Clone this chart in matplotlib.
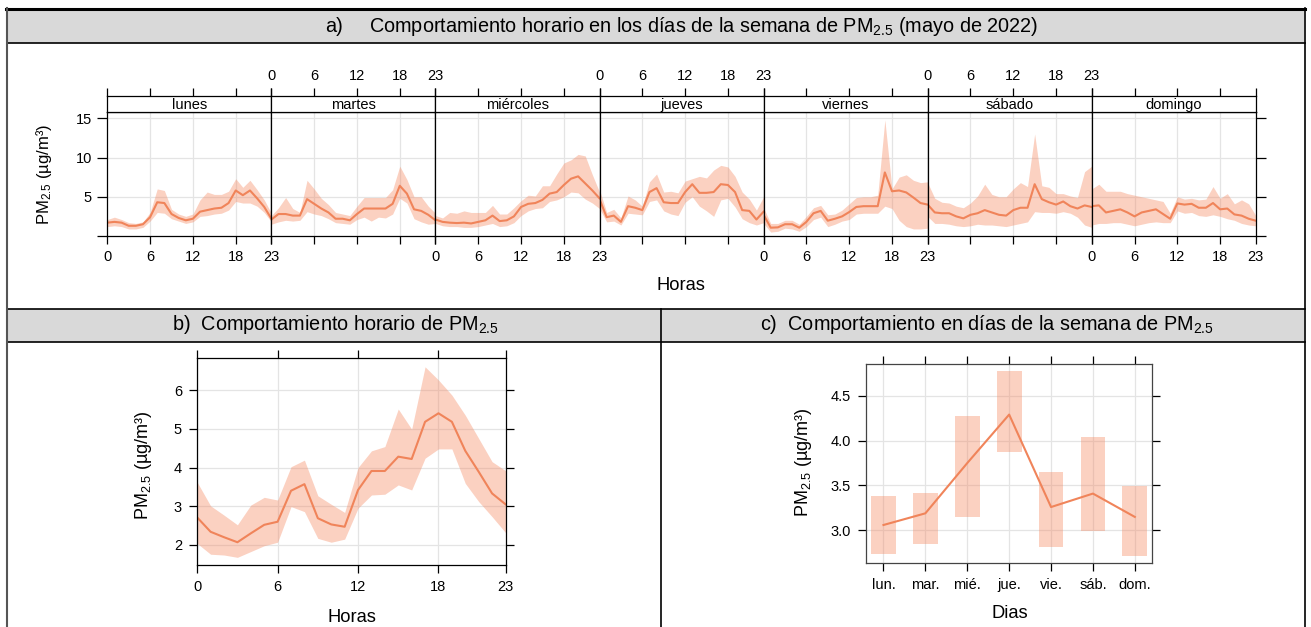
import matplotlib
matplotlib.use("Agg")
import matplotlib.pyplot as plt
import numpy as np
from matplotlib.patches import Rectangle

plt.rcParams['font.family'] = ['Liberation Sans', 'DejaVu Sans']
plt.rcParams['mathtext.fontset'] = 'custom'
plt.rcParams['mathtext.rm'] = 'Liberation Sans'
plt.rcParams['mathtext.it'] = 'Liberation Sans:italic'
plt.rcParams['mathtext.default'] = 'regular'

# ---------------- data ----------------
hours = list(range(24))
day_names = ["lunes", "martes", "miércoles", "jueves", "viernes", "sábado", "domingo"]
hour_ticks = [0, 6, 12, 18, 23]

lunes_mean = [1.7,1.8,1.7,1.3,1.3,1.5,2.4,4.3,4.2,2.8,2.3,2.0,2.2,3.1,3.3,3.5,3.6,4.2,5.8,5.2,5.8,4.8,3.7,2.2]
lunes_hi   = [2.1,2.4,2.1,1.7,1.6,1.8,3.0,6.0,5.8,3.4,2.8,2.5,2.8,4.6,5.6,5.3,5.3,5.7,7.3,6.2,7.1,5.9,4.6,2.9]
lunes_lo   = [1.2,1.3,1.2,0.9,0.9,1.1,1.9,3.0,2.9,2.2,1.9,1.6,1.8,2.5,2.6,2.8,2.9,3.3,4.4,4.2,4.2,3.8,3.0,1.8]

martes_mean = [2.1,2.8,2.8,2.6,2.6,4.7,4.1,3.5,3.0,2.2,2.2,2.0,2.8,3.5,3.5,3.5,3.5,4.1,6.4,5.4,3.4,3.2,2.7,2.0]
martes_hi   = [2.6,3.6,4.9,3.5,3.0,7.1,6.0,4.8,4.0,3.0,2.8,2.6,3.8,4.9,4.9,4.9,4.9,5.9,8.9,7.2,5.0,5.0,3.8,2.9]
martes_lo   = [1.5,1.8,2.0,1.9,2.0,3.1,2.8,2.6,2.2,1.7,1.6,1.5,2.1,2.4,1.9,2.4,2.3,2.8,4.8,4.2,2.2,1.8,1.5,1.6]

miercoles_mean = [2.1,1.8,1.7,1.65,1.7,1.6,1.8,2.0,2.6,1.9,2.0,2.5,3.7,4.1,4.2,4.6,5.4,5.6,6.5,7.3,7.6,6.7,5.8,4.8]
miercoles_hi   = [2.6,2.3,3.0,2.9,3.2,3.0,3.0,3.0,3.9,2.8,2.8,3.6,4.5,5.2,5.1,6.4,6.4,7.9,9.3,9.7,10.4,10.2,7.8,5.6]
miercoles_lo   = [1.6,1.3,1.2,1.2,1.1,1.1,1.2,1.4,1.6,1.2,1.3,1.7,2.6,3.2,3.5,3.6,4.4,4.6,5.0,5.6,5.5,4.7,4.2,3.5]

jueves_mean = [4.7,2.4,2.6,1.8,3.8,3.6,3.3,5.6,6.1,4.3,4.2,4.2,5.6,6.6,5.5,5.5,5.6,6.6,6.5,5.6,3.3,3.2,2.1,3.1]
jueves_hi   = [5.9,3.0,3.4,2.3,5.1,4.6,3.8,6.9,7.9,5.6,5.7,5.5,7.0,7.3,7.6,7.4,8.4,9.0,8.8,7.6,5.6,4.7,3.3,5.0]
jueves_lo   = [3.5,1.8,1.9,1.4,2.9,2.8,2.7,4.4,4.6,3.2,2.8,2.6,4.3,5.0,3.8,3.2,2.5,4.6,4.8,3.7,2.2,1.7,1.4,1.7]

viernes_mean = [2.7,1.06,1.1,1.5,1.5,1.06,1.8,2.9,3.2,1.95,2.2,2.5,3.05,3.7,3.8,3.8,3.8,8.1,5.7,5.8,5.55,4.9,4.2,4.0]
viernes_hi   = [3.6,1.6,1.6,2.0,2.0,1.5,2.5,3.6,3.9,2.7,2.8,3.3,4.1,4.9,5.0,5.0,5.2,14.8,6.0,7.5,7.8,7.1,6.8,6.9]
viernes_lo   = [1.6,0.5,0.6,1.0,0.9,0.6,1.2,2.1,2.4,1.2,1.5,1.9,2.1,2.8,2.9,2.9,2.9,3.8,3.5,2.0,1.2,0.9,0.9,1.0]

sabado_mean = [4.0,3.0,2.9,2.9,2.5,2.25,2.7,2.9,3.3,3.0,2.7,2.6,3.3,3.6,3.6,6.6,4.7,4.3,4.0,4.4,3.8,3.5,3.9,3.7]
sabado_hi   = [6.8,4.8,4.3,4.2,3.8,3.6,4.2,5.1,6.6,5.3,5.0,5.0,6.0,6.8,6.3,13.0,6.4,6.2,5.4,5.4,5.1,4.9,8.2,8.9]
sabado_lo   = [2.5,1.6,1.6,1.5,1.3,1.2,1.3,1.5,1.4,1.4,1.3,1.2,1.4,1.6,1.8,3.1,3.0,3.0,2.9,3.1,2.9,2.4,1.4,1.1]

domingo_mean = [3.8,3.9,3.0,3.2,3.4,3.0,2.5,3.0,3.2,3.4,2.8,2.2,4.15,4.0,4.1,3.6,3.6,4.2,3.4,3.5,2.75,2.6,2.2,1.95]
domingo_hi   = [6.0,6.6,5.7,5.7,5.7,5.4,5.2,5.0,4.8,4.6,4.4,2.9,5.0,4.7,4.8,4.6,4.7,6.3,4.8,5.4,4.1,4.6,4.1,2.6]
domingo_lo   = [1.4,1.6,1.6,1.7,1.7,1.5,1.3,1.5,1.7,1.8,1.7,1.7,3.2,2.9,3.0,2.6,2.5,2.7,2.5,2.2,2.0,1.6,1.4,1.3]

hour_mean = [2.71,2.34,2.2,2.07,2.3,2.52,2.6,3.4,3.57,2.69,2.53,2.47,3.42,3.91,3.91,4.28,4.22,5.18,5.4,5.18,4.43,3.89,3.33,3.05]
hour_hi   = [3.62,3.01,2.77,2.52,3.03,3.23,3.16,4.02,4.19,3.27,3.05,2.84,4.0,4.43,4.54,5.51,4.99,6.6,6.26,5.87,5.35,4.75,4.15,3.92]
hour_lo   = [2.04,1.76,1.74,1.68,1.83,1.98,2.07,2.99,2.86,2.17,2.07,2.15,2.95,3.29,3.31,3.55,3.42,4.24,4.48,4.48,3.59,3.12,2.73,2.32]

week_labels = ["lun.", "mar.", "mié.", "jue.", "vie.", "sáb.", "dom."]
week_mean = [3.06, 3.19, 3.75, 4.29, 3.26, 3.41, 3.15]
week_hi   = [3.38, 3.42, 4.27, 4.77, 3.65, 4.04, 3.49]
week_lo   = [2.74, 2.85, 3.15, 3.87, 2.81, 2.99, 2.72]

day_mean = [lunes_mean, martes_mean, miercoles_mean, jueves_mean, viernes_mean, sabado_mean, domingo_mean]
day_hi = [lunes_hi, martes_hi, miercoles_hi, jueves_hi, viernes_hi, sabado_hi, domingo_hi]
day_lo = [lunes_lo, martes_lo, miercoles_lo, jueves_lo, viernes_lo, sabado_lo, domingo_lo]

# ---------------- style ----------------
LINE = '#F0845A'
FILL = (0.96, 0.55, 0.40)
FILL_A = 0.40
GRID = '#E4E4E4'
TICK_FS = 10.5
HEAD_FS = 14.3
W, H = 1311, 627
fig = plt.figure(figsize=(W / 100, H / 100), dpi=100)

def add_ax(x0, y0, x1, y1, **kw):
    return fig.add_axes([x0 / W, 1 - y1 / H, (x1 - x0) / W, (y1 - y0) / H], **kw)

# table background
bg = add_ax(0, 0, W, H)
bg.set_xlim(0, W); bg.set_ylim(H, 0); bg.axis('off')
bg.add_patch(Rectangle((7, 9), 1297, 34, facecolor='#D9D9D9', edgecolor='none'))
bg.add_patch(Rectangle((7, 309), 1297, 33, facecolor='#D9D9D9', edgecolor='none'))
bg.plot([6, 1305], [8.5, 8.5], color='black', lw=2.2)
bg.plot([7, 1305], [43, 43], color='black', lw=1.2)
bg.plot([7, 1305], [309, 309], color='black', lw=1.2)
bg.plot([7, 1305], [342, 342], color='black', lw=1.2)
bg.plot([7, 7], [8, H], color='#555555', lw=1.5)
bg.plot([1304.5, 1304.5], [8, H], color='black', lw=1.2)
bg.plot([661, 661], [309, H], color='black', lw=1.2)

def ftext(x, y, s, **kw):
    fig.text(x / W, 1 - y / H, s, **kw)

ftext(325, 26, "a)", fontsize=HEAD_FS, ha='left', va='center')
ftext(369, 26, "Comportamiento horario en los días de la semana de PM$_{2.5}$ (mayo de 2022)",
      fontsize=HEAD_FS, ha='left', va='center')
ftext(172, 325, "b)  Comportamiento horario de PM$_{2.5}$", fontsize=HEAD_FS, ha='left', va='center')
ftext(760, 325, "c)  Comportamiento en días de la semana de PM$_{2.5}$", fontsize=HEAD_FS, ha='left', va='center')

# ---------------- panel a ----------------
x_left, x_right = 107.3, 1255.8
pw = (x_right - x_left) / 7
ytop, ybot, strip_top = 112, 236, 96
for i in range(7):
    x0 = x_left + i * pw
    ax = add_ax(x0, ytop, x0 + pw, ybot)
    ax.set_xlim(0, 23); ax.set_ylim(0, 15.8)
    for v in [6, 12, 18]:
        ax.axvline(v, color=GRID, lw=0.9, zorder=0)
    for v in [5, 10, 15]:
        ax.axhline(v, color=GRID, lw=0.9, zorder=0)
    ax.fill_between(hours, day_lo[i], day_hi[i], color=FILL, alpha=FILL_A, lw=0, zorder=1)
    ax.plot(hours, day_mean[i], color=LINE, lw=1.5, zorder=2)
    for s in ax.spines.values():
        s.set_color('black'); s.set_linewidth(0.9)
    ax.set_xticks(hour_ticks)
    ax.tick_params(axis='x', direction='out', length=6, width=0.9, pad=4, labelsize=TICK_FS,
                   labelbottom=(i % 2 == 0))
    ax.set_yticks([0, 5, 10, 15])
    if i == 0:
        ax.set_yticklabels(['', '5', '10', '15'])
        ax.tick_params(axis='y', direction='out', length=7, width=0.9, pad=4, labelsize=TICK_FS)
    elif i == 6:
        ax.yaxis.tick_right()
        ax.tick_params(axis='y', direction='out', length=7, width=0.9, labelright=False)
    else:
        ax.tick_params(axis='y', left=False, labelleft=False)
    # strip
    sa = add_ax(x0, strip_top, x0 + pw, ytop)
    sa.set_xlim(0, 23); sa.set_ylim(0, 1)
    for s in sa.spines.values():
        s.set_color('black'); s.set_linewidth(0.9)
    sa.set_yticks([])
    sa.xaxis.tick_top()
    sa.set_xticks(hour_ticks)
    sa.tick_params(axis='x', direction='out', length=6, width=0.9, pad=3, labelsize=TICK_FS,
                   labeltop=(i % 2 == 1), bottom=False, labelbottom=False)
    sa.text(11.5, 0.42, day_names[i], ha='center', va='center', fontsize=TICK_FS)

ftext(44, 174, "PM$_{2.5}$ (µg/m³)", rotation=90, fontsize=12, ha='center', va='center')
ftext(681, 285, "Horas", fontsize=13.2, ha='center', va='center')

# ---------------- panel b ----------------
axb = add_ax(197.2, 358.3, 505.5, 564.7)
axb.set_xlim(0, 23); axb.set_ylim(1.49, 6.82)
for v in [0, 6, 12, 18]:
    axb.axvline(v, color=GRID, lw=0.9, zorder=0)
for v in [2, 3, 4, 5, 6]:
    axb.axhline(v, color=GRID, lw=0.9, zorder=0)
axb.fill_between(hours, hour_lo, hour_hi, color=FILL, alpha=FILL_A, lw=0, zorder=1)
axb.plot(hours, hour_mean, color=LINE, lw=1.5, zorder=2)
axb.set_xticks(hour_ticks)
axb.set_yticks([2, 3, 4, 5, 6])
axb.tick_params(direction='out', length=6, width=0.9, labelsize=TICK_FS, pad=5,
                top=True, right=True, labeltop=False, labelright=False)
for s in axb.spines.values():
    s.set_color('black'); s.set_linewidth(0.9)
ftext(144, 465, "PM$_{2.5}$ (µg/m³)", rotation=90, fontsize=13, ha='center', va='center')
ftext(352, 617, "Horas", fontsize=13.2, ha='center', va='center')

# ---------------- panel c ----------------
axc = add_ax(866.3, 364.3, 1152, 562.7)
xd = np.arange(1, 8)
axc.set_xlim(0.59, 7.41); axc.set_ylim(2.64, 4.85)
for v in xd:
    axc.axvline(v, color=GRID, lw=0.9, zorder=0)
for v in [3.0, 3.5, 4.0, 4.5]:
    axc.axhline(v, color=GRID, lw=0.9, zorder=0)
axc.bar(xd, np.array(week_hi) - np.array(week_lo), bottom=week_lo, width=0.59,
        color=FILL, alpha=FILL_A, lw=0, zorder=1)
axc.plot(xd, week_mean, color=LINE, lw=1.5, zorder=2)
axc.set_xticks(xd)
axc.set_xticklabels(week_labels)
axc.set_yticks([3.0, 3.5, 4.0, 4.5])
axc.set_yticklabels(['3.0', '3.5', '4.0', '4.5'])
axc.tick_params(direction='out', length=6, width=0.9, labelsize=TICK_FS, pad=5,
                top=True, right=True, labeltop=False, labelright=False)
for s in axc.spines.values():
    s.set_color('#444444'); s.set_linewidth(0.9)
ftext(803, 462, "PM$_{2.5}$ (µg/m³)", rotation=90, fontsize=13, ha='center', va='center')
ftext(1010, 613, "Dias", fontsize=13.2, ha='center', va='center')

fig.savefig("out.png", dpi=100)
